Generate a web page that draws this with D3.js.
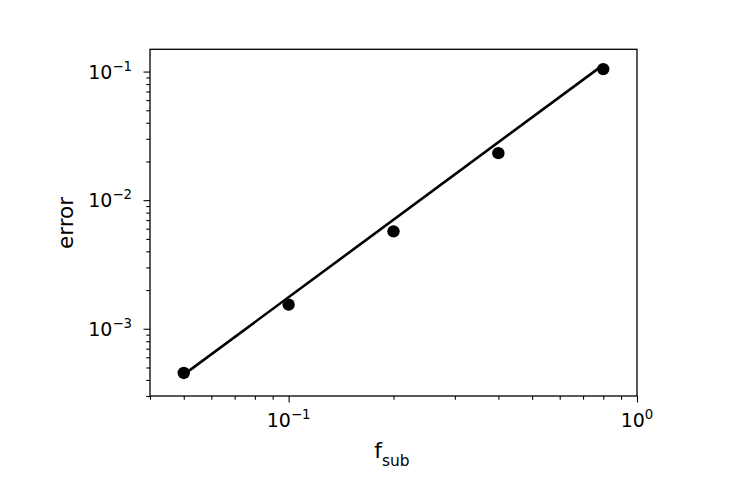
<!DOCTYPE html>
<html lang="en">
<head>
    <meta charset="UTF-8">
    <title>error vs f_sub</title>
    <script src="https://d3js.org/d3.v7.min.js"></script>
    <style>
        body { margin: 0; background: #fff; }
        svg { font-family: "DejaVu Sans", sans-serif; }
        .tick line { stroke: #000; stroke-width: 1.1; }
    </style>
</head>
<body>
    <svg width="750" height="495"></svg>
    <script>
        // data
        const fSub = [0.05, 0.1, 0.2, 0.4, 0.8];
        const errors = [0.000453, 0.00154, 0.00572, 0.0232, 0.1045];
        const fitX = [0.05, 0.8];
        const fitY = [0.00044, 0.1127];

        const xMajor = [0.1, 1];
        const xMinor = [0.04, 0.05, 0.06, 0.07, 0.08, 0.09, 0.2, 0.3, 0.4, 0.5, 0.6, 0.7, 0.8, 0.9];
        const xLabels = [["10", "\u22121"], ["10", "0"]];
        const yMajor = [0.001, 0.01, 0.1];
        const yMinor = [0.0003, 0.0004, 0.0005, 0.0006, 0.0007, 0.0008, 0.0009,
                        0.002, 0.003, 0.004, 0.005, 0.006, 0.007, 0.008, 0.009,
                        0.02, 0.03, 0.04, 0.05, 0.06, 0.07, 0.08, 0.09];
        const yLabels = [["10", "\u22123"], ["10", "\u22122"], ["10", "\u22121"]];

        const plotLeft = 150, plotRight = 637, plotTop = 49.3, plotBottom = 396;

        const svg = d3.select("svg");
        const x = d3.scaleLog().domain([0.04, 1]).range([plotLeft, plotRight]);
        const y = d3.scaleLog().domain([3.0e-4, 0.149]).range([plotBottom, plotTop]);

        function addAxis(axis, values, size, transform) {
            const g = svg.append("g")
                .attr("transform", transform)
                .call(axis.tickValues(values).tickSize(size).tickFormat(""));
            g.select(".domain").remove();
        }
        addAxis(d3.axisBottom(x), xMinor, 3.7, `translate(0,${plotBottom})`);
        addAxis(d3.axisBottom(x), xMajor, 6.5, `translate(0,${plotBottom})`);
        addAxis(d3.axisLeft(y), yMinor, 3.7, `translate(${plotLeft},0)`);
        addAxis(d3.axisLeft(y), yMajor, 6.5, `translate(${plotLeft},0)`);

        // tick labels with superscripts
        xMajor.forEach((v, i) => {
            const t = svg.append("text")
                .attr("x", x(v))
                .attr("y", 427)
                .attr("text-anchor", "middle")
                .attr("font-size", 19);
            t.append("tspan").text(xLabels[i][0]);
            t.append("tspan").attr("dy", -8).attr("font-size", 13.3).text(xLabels[i][1]);
        });
        yMajor.forEach((v, i) => {
            const t = svg.append("text")
                .attr("x", 132)
                .attr("y", y(v) + 7)
                .attr("text-anchor", "end")
                .attr("font-size", 19);
            t.append("tspan").text(yLabels[i][0]);
            t.append("tspan").attr("dy", -8).attr("font-size", 13.3).text(yLabels[i][1]);
        });

        // fit line
        const line = d3.line().x(d => x(d[0])).y(d => y(d[1]));
        svg.append("path")
            .datum(d3.zip(fitX, fitY))
            .attr("d", line)
            .attr("fill", "none")
            .attr("stroke", "#000")
            .attr("stroke-width", 2.6);

        // data points
        svg.append("g")
            .selectAll("circle")
            .data(d3.zip(fSub, errors))
            .enter().append("circle")
            .attr("cx", d => x(d[0]))
            .attr("cy", d => y(d[1]))
            .attr("r", 6.2)
            .attr("fill", "#000");

        // frame
        svg.append("rect")
            .attr("x", plotLeft).attr("y", plotTop)
            .attr("width", plotRight - plotLeft).attr("height", plotBottom - plotTop)
            .attr("fill", "none")
            .attr("stroke", "#000")
            .attr("stroke-width", 1.3);

        // axis labels
        const xl = svg.append("text")
            .attr("x", 392)
            .attr("y", 458)
            .attr("text-anchor", "middle")
            .attr("font-size", 22);
        xl.append("tspan").text("f");
        xl.append("tspan").attr("dy", 7.7).attr("font-size", 15.4).text("sub");

        svg.append("text")
            .attr("transform", "translate(73,223) rotate(-90)")
            .attr("text-anchor", "middle")
            .attr("font-size", 21.5)
            .text("error");
    </script>
</body>
</html>
